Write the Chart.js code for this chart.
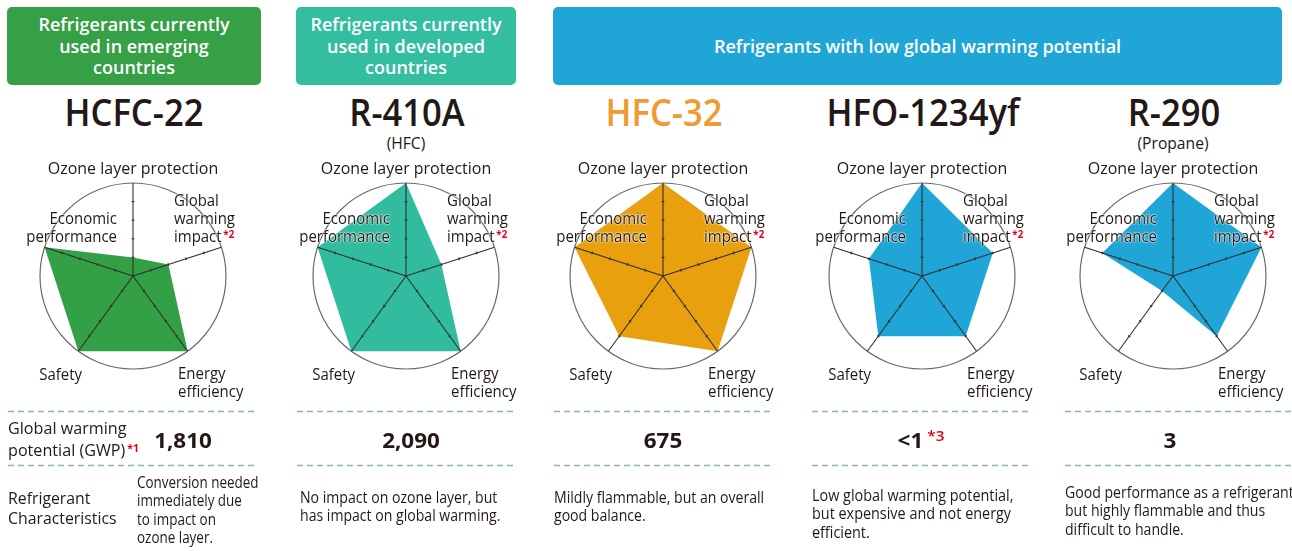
<!DOCTYPE html>
<html><head><meta charset="utf-8">
<script src="https://cdn.jsdelivr.net/npm/chart.js@4.4.1/dist/chart.umd.min.js"></script>
<style>
html,body{margin:0;padding:0;background:#fff;}
#stage{position:relative;width:1292px;height:551px;overflow:hidden;font-family:'Open Sans',sans-serif;color:#231815;}
.t{position:absolute;white-space:nowrap;}
.t > div{white-space:nowrap;}
.halo{text-shadow:0 0 2px #fff,0 0 2px #fff,0 0 1px #fff;}
.box{position:absolute;border-radius:5px;}
canvas.cv{position:absolute;}
.mk{color:#e60012;font-size:11px;font-weight:700;position:relative;top:-4px;margin-left:2px;}
.mk.big{font-size:15px;font-weight:600;top:-7px;margin-left:4px;}
svg{position:absolute;left:0;top:0;}
</style></head>
<body><div id="stage"></div>
<script>
// ---------------- data ----------------
const groupHeaders = [
  ['Refrigerants currently', 'used in emerging', 'countries'],
  ['Refrigerants currently', 'used in developed', 'countries'],
  ['Refrigerants with low global warming potential']
];
const refrigerants = ['HCFC-22', 'R-410A', 'HFC-32', 'HFO-1234yf', 'R-290'];
const subtitles = ['', '(HFC)', '', '', '(Propane)'];
const axisLabels = ['Ozone layer protection', 'Global warming impact', 'Energy efficiency', 'Safety', 'Economic performance'];
const axisLabelLines = [['Ozone layer protection'], ['Global', 'warming', 'impact'], ['Energy', 'efficiency'], ['Safety'], ['Economic', 'performance']];
const scaleTicks = [0, 1, 2, 3, 4, 5];
const hcfc22Scores = [1, 2, 5, 5, 5];
const r410aScores = [5, 2, 5, 5, 5];
const hfc32Scores = [5, 5, 5, 4, 5];
const hfo1234yfScores = [5, 4, 4, 4, 3];
const r290Scores = [5, 5, 4, 1, 4];
const gwpValues = ['1,810', '2,090', '675', '<1', '3'];
const gwpRowLabel = ['Global warming', 'potential (GWP)'];
const charRowLabel = ['Refrigerant', 'Characteristics'];
const characteristics = [
  ['Conversion needed', 'immediately due', 'to impact on', 'ozone layer.'],
  ['No impact on ozone layer, but', 'has impact on global warming.'],
  ['Mildly flammable, but an overall', 'good balance.'],
  ['Low global warming potential,', 'but expensive and not energy', 'efficient.'],
  ['Good performance as a refrigerant,', 'but highly flammable and thus', 'difficult to handle.']
];
const allScores = [hcfc22Scores, r410aScores, hfc32Scores, hfo1234yfScores, r290Scores];

// ---------------- styling / layout ----------------
const fillColors = ['#34a045', '#31bc9f', '#e9a00e', '#1fa5d6', '#1fa5d6'];
const boxColors = ['#35a046', '#33bea0', '#1fa6d7'];
const boxRects = [[7, 7, 254, 78], [296, 7, 220, 78], [553, 7, 729, 78]];
const centersX = [133, 406, 663, 922, 1173];
const centerY = 276;
const dashSegs = [[8, 258], [297, 517], [554, 773], [812, 1032], [1065, 1292]];
const dashY = [411, 465];
const gwpX = [183, 411, 663, 921, 1170];
const charX = [137, 300, 554, 812, 1065];
const charY = [482, 497, 497, 495, 492];
const charSx = [0.84, 0.88, 0.88, 0.9, 0.88];
const TXT = '#231815';

const stage = document.getElementById('stage');

function txt(lines, x, y, o) {
  const d = document.createElement('div');
  d.className = 't' + (o.halo ? ' halo' : '');
  const lh = o.lh || o.size * 1.2;
  d.style.fontSize = o.size + 'px';
  d.style.lineHeight = lh + 'px';
  d.style.fontWeight = o.weight || 400;
  d.style.color = o.color || TXT;
  d.style.top = (y - lh / 2) + 'px';
  const W = 800;
  if (o.align === 'center') {
    d.style.left = (x - W / 2) + 'px'; d.style.width = W + 'px'; d.style.textAlign = 'center'; d.style.transformOrigin = '50% 0';
  } else if (o.align === 'right') {
    d.style.left = (x - W) + 'px'; d.style.width = W + 'px'; d.style.textAlign = 'right'; d.style.transformOrigin = '100% 0';
  } else {
    d.style.left = x + 'px'; d.style.transformOrigin = '0 0';
  }
  d.style.transform = 'scaleX(' + (o.sx || 1) + ')';
  lines.forEach((ln, i) => {
    const l = document.createElement('div');
    l.appendChild(document.createTextNode(ln));
    if (o.mark && i === lines.length - 1) {
      const m = document.createElement('span'); m.className = 'mk' + (o.bigMark ? ' big' : ''); m.textContent = o.mark; l.appendChild(m);
    }
    d.appendChild(l);
  });
  stage.appendChild(d);
  return d;
}

// header boxes
boxRects.forEach((r, i) => {
  const b = document.createElement('div');
  b.className = 'box';
  b.style.left = r[0] + 'px'; b.style.top = r[1] + 'px'; b.style.width = r[2] + 'px'; b.style.height = r[3] + 'px';
  b.style.background = boxColors[i];
  stage.appendChild(b);
  const n = groupHeaders[i].length;
  const lh = 21.5;
  const firstY = r[1] + r[3] / 2 - (n - 1) * lh / 2 + 0.5;
  txt(groupHeaders[i], r[0] + r[2] / 2, firstY, {size: 18, weight: 600, lh: lh, align: 'center', color: '#fff', sx: 1.0});
});

// titles
refrigerants.forEach((name, i) => {
  txt([name], centersX[i] + 1, 111, {size: 38, weight: 600, lh: 44, align: 'center', color: i === 2 ? '#ee9b32' : TXT, sx: 0.91});
  if (subtitles[i]) txt([subtitles[i]], centersX[i], 143, {size: 17, lh: 20, align: 'center', sx: 0.92});
});

// radar charts
const tickMarks = {
  id: 'tickMarks',
  afterDraw(chart) {
    const s = chart.scales.r, ctx = chart.ctx;
    ctx.save();
    ctx.strokeStyle = '#333';
    ctx.lineWidth = 1.3;
    for (let i = 0; i < chart.data.labels.length; i++) {
      const a = s.getIndexAngle(i) - Math.PI / 2;
      const px = -Math.sin(a), py = Math.cos(a);
      scaleTicks.forEach(v => {
        if (v <= s.min || v >= s.max) return;
        const p = s.getPointPositionForValue(i, v);
        ctx.beginPath();
        ctx.moveTo(p.x - px * 1.3, p.y - py * 1.3);
        ctx.lineTo(p.x + px * 1.3, p.y + py * 1.3);
        ctx.stroke();
      });
    }
    ctx.restore();
  }
};

allScores.forEach((scores, i) => {
  const cv = document.createElement('canvas');
  cv.className = 'cv';
  cv.width = 200; cv.height = 200;
  cv.style.left = (centersX[i] - 100) + 'px';
  cv.style.top = (centerY - 100) + 'px';
  stage.appendChild(cv);
  new Chart(cv, {
    type: 'radar',
    data: {labels: axisLabels, datasets: [{data: scores, backgroundColor: fillColors[i], borderWidth: 0, pointRadius: 0, fill: true}]},
    options: {
      responsive: false, animation: false, events: [],
      layout: {padding: 7},
      plugins: {legend: {display: false}, tooltip: {enabled: false}},
      scales: {
        r: {
          min: scaleTicks[0], max: scaleTicks[scaleTicks.length - 1], z: 1,
          ticks: {display: false, stepSize: 1},
          pointLabels: {display: false},
          grid: {z: 1, circular: true, lineWidth: 1.2, color: c => (c.tick && c.tick.value === scaleTicks[scaleTicks.length - 1]) ? '#6a6a6a' : 'rgba(0,0,0,0)'},
          angleLines: {color: '#2e2e2e', lineWidth: 1.1}
        }
      }
    },
    plugins: [tickMarks]
  });

  const cx = centersX[i], cy = centerY;
  const o = {size: 17, lh: 18, sx: 0.88, halo: true};
  txt(axisLabelLines[0], cx, cy - 108, Object.assign({}, o, {align: 'center', sx: 0.94}));
  txt(axisLabelLines[1], cx + 41, cy - 76, Object.assign({}, o, {align: 'left', mark: '*2'}));
  txt(axisLabelLines[2], cx + 45, cy + 97, Object.assign({}, o, {align: 'left'}));
  txt(axisLabelLines[3], cx - 51, cy + 98, Object.assign({}, o, {align: 'right'}));
  txt(axisLabelLines[4], cx - 16, cy - 58, Object.assign({}, o, {align: 'right'}));
});

// dashed separators
const ns = 'http://www.w3.org/2000/svg';
const svg = document.createElementNS(ns, 'svg');
svg.setAttribute('width', 1292); svg.setAttribute('height', 551);
dashY.forEach(y => dashSegs.forEach(s => {
  const l = document.createElementNS(ns, 'line');
  l.setAttribute('x1', s[0]); l.setAttribute('x2', s[1]);
  l.setAttribute('y1', y + 0.5); l.setAttribute('y2', y + 0.5);
  l.setAttribute('stroke', '#88b4be'); l.setAttribute('stroke-width', 1.6);
  l.setAttribute('stroke-dasharray', '6 4');
  svg.appendChild(l);
}));
stage.appendChild(svg);

// bottom rows
txt(gwpRowLabel, 8, 428, {size: 17, lh: 22, sx: 0.95, mark: '*1'});
txt(charRowLabel, 8, 498, {size: 17, lh: 19.5, sx: 0.93});
gwpValues.forEach((v, i) => {
  txt([v], gwpX[i], 439, {size: 22, weight: 700, lh: 26, align: 'center', sx: 1.02, mark: i === 3 ? '*3' : '', bigMark: true});
});
characteristics.forEach((lines, i) => {
  txt(lines, charX[i], charY[i], {size: 16, lh: 18.4, sx: charSx[i]});
});
</script>
</body></html>
